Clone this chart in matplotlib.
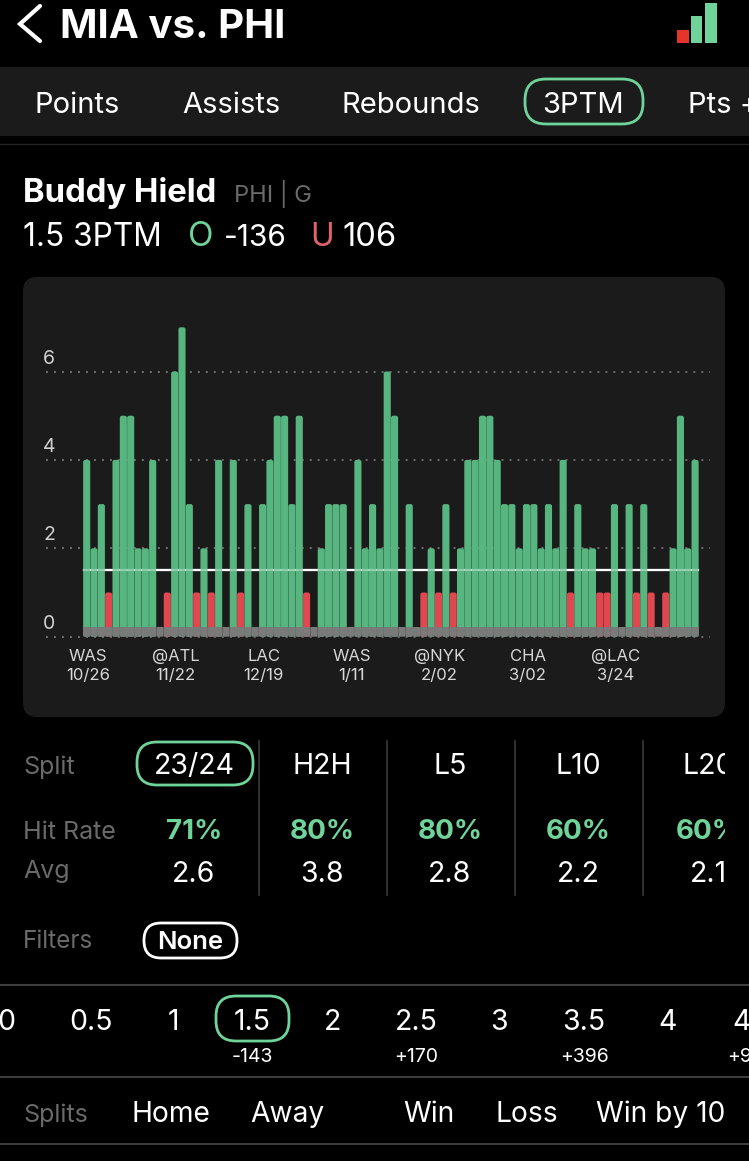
import matplotlib
matplotlib.use('Agg')
import matplotlib.pyplot as plt
from matplotlib.patches import FancyBboxPatch, Rectangle

plt.rcParams['font.family'] = ['Inter', 'DejaVu Sans']

# made threes per game, 84 games
threes = [4, 2, 3, 1, 4, 5, 5, 2, 2, 4, 0, 1, 6, 7, 3, 1, 2, 1, 4, 0, 4, 1, 3, 0,
          3, 4, 5, 5, 3, 5, 1, 0, 2, 3, 3, 3, 0, 4, 2, 3, 2, 6, 5, 0, 3, 0, 1, 2,
          1, 3, 1, 2, 4, 4, 5, 5, 4, 3, 3, 2, 3, 3, 2, 3, 2, 4, 1, 3, 2, 2, 1, 1,
          3, 0, 3, 1, 3, 1, 0, 1, 2, 5, 2, 4]
prop_line = 1.5
tick_games = [0, 12, 24, 36, 48, 60, 72]
tick_labels = ['WAS\n10/26', '@ATL\n11/22', 'LAC\n12/19', 'WAS\n1/11',
               '@NYK\n2/02', 'CHA\n3/02', '@LAC\n3/24']
y_ticks = [0, 2, 4, 6]

tabs = ['Points', 'Assists', 'Rebounds', '3PTM', 'Pts +']
tab_x = [77, 231, 411, 583, 688]
split_names = ['23/24', 'H2H', 'L5', 'L10', 'L20']
hit_rates = ['71%', '80%', '80%', '60%', '60%']
averages = ['2.6', '3.8', '2.8', '2.2', '2.1']
split_x = [194, 322, 450, 578, 708]
line_vals = ['0', '0.5', '1', '1.5', '2', '2.5', '3', '3.5', '4', '4.5']
line_x = [6, 91, 173, 252, 333, 416, 499, 584, 668, 747]
line_odds = {'1.5': '-143', '2.5': '+170', '3.5': '+396', '4.5': '+950'}
filters = ['Home', 'Away', 'Win', 'Loss', 'Win by 10']
filter_x = [171, 287, 429, 527, 661]

GREEN = '#6fd39a'
BAR_GREEN = '#57b580'
BAR_RED = '#e0474f'
GREY = '#7a7a7a'
CARD = '#1b1b1b'

W, H = 749, 1161
fig = plt.figure(figsize=(W / 100, H / 100), dpi=100, facecolor='black')

# whole page, in pixels
ui = fig.add_axes([0, 0, 1, 1])
ui.set_xlim(0, W)
ui.set_ylim(H, 0)
ui.axis('off')


def label(x, y, s, size, color='white', weight='normal', ha='center', clip=None):
    t = ui.text(x, y + 1, s, fontsize=size, color=color, fontweight=weight, ha=ha, va='baseline')
    if clip is not None:
        # ax.text turns clipping off, the table runs past the card edge
        t.set_clip_on(True)
        t.set_clip_path(Rectangle((0, 0), clip, H, transform=ui.transData))
    return t


def pill(x0, y0, x1, y1, color, r=20, lw=2.0):
    ui.add_patch(FancyBboxPatch((x0 + r, y0 + r), x1 - x0 - 2 * r, y1 - y0 - 2 * r,
                                boxstyle='round,pad=%d,rounding_size=%d' % (r, r),
                                fc='none', ec=color, lw=lw))


# header
ui.plot([40, 20, 40], [6, 24, 41], color='white', lw=3, solid_capstyle='round', solid_joinstyle='miter')
label(60, 37, 'MIA vs. PHI', 29, weight='bold', ha='left')
ui.add_patch(Rectangle((677, 30), 12, 13, color='#e5352b', lw=0))
ui.add_patch(Rectangle((691, 16), 11, 27, color=GREEN, lw=0))
ui.add_patch(Rectangle((705, 3), 12, 40, color=GREEN, lw=0))

# tab strip
ui.add_patch(Rectangle((0, 67), W, 69, color=CARD, lw=0))
ui.plot([0, W], [144, 144], color='#222222', lw=1)
for name, x in zip(tabs, tab_x):
    label(x, 112, name, 21, ha='center' if name != 'Pts +' else 'left')
pill(525, 79, 643, 124, GREEN, r=21)

# player
label(23, 201, 'Buddy Hield', 23.7, weight='bold', ha='left')
label(234, 201, 'PHI | G', 17, color='#6a6a6a', ha='left')
label(23, 245, '1.5 3PTM', 22.8, ha='left')
label(188, 245, 'O', 24, color=GREEN, ha='left')
label(224, 245, '-136', 21.5, ha='left')
label(310, 245, 'U', 23, color='#e0616a', ha='left')
label(342, 245, '106', 23.5, ha='left')

# chart card
ui.add_patch(FancyBboxPatch((37, 291), 674, 412, boxstyle='round,pad=14,rounding_size=14', fc=CARD, ec='none'))

# chart axes sit inside the card, scaled so one game is 7.33 px and one three is 44.2 px
GAME_PX = 7.33
THREE_PX = 44.2
X0, Y0 = 86.7, 636.7
AX_BOTTOM = 642
ax = fig.add_axes([23 / W, 1 - AX_BOTTOM / H, 702 / W, (AX_BOTTOM - 277) / H])
ax.set_xlim((23 - X0) / GAME_PX, (725 - X0) / GAME_PX)
ax.set_ylim((Y0 - AX_BOTTOM) / THREE_PX, (Y0 - 277) / THREE_PX)
ax.patch.set_alpha(0)
for s in ax.spines.values():
    s.set_visible(False)

ax.hlines(y_ticks, (46 - X0) / GAME_PX, (710 - X0) / GAME_PX, color='#6e6e6e', lw=1.4,
          linestyle=(0, (1, 3.11)), zorder=1)
ax.axhline(prop_line, xmin=(84 - 23) / 702, xmax=(698 - 23) / 702, color='white', lw=1.6, zorder=2)


def rounded_bar(i, height, color, zorder, r=0.3):
    w = 0.97
    ax.add_patch(FancyBboxPatch((i - w / 2, 0), w, height,
                                boxstyle='round,pad=0,rounding_size=%g' % r,
                                mutation_aspect=GAME_PX / THREE_PX,
                                fc=color, ec='none', zorder=zorder))


for i, v in enumerate(threes):
    if v > 0:
        rounded_bar(i, v, BAR_GREEN if v > prop_line else BAR_RED, 3)
    rounded_bar(i, 0.22, GREY, 4, r=0.12)

# line shows through the bars, paler
ax.axhline(prop_line, xmin=(84 - 23) / 702, xmax=(698 - 23) / 702, color='white', lw=1.6, alpha=0.35, zorder=5)

ax.set_yticks(y_ticks)
ax.set_yticklabels([])
ax.tick_params(axis='y', length=0)
for v in y_ticks:
    ax.annotate(str(v), (0, v), xycoords=('axes fraction', 'data'), xytext=(26, 13),
                textcoords='offset pixels', color='#d0d0d0', fontsize=14, ha='center', va='center')

ax.set_xticks([g + 0.15 for g in tick_games])
ax.set_xticklabels(tick_labels, fontsize=12, color='#d8d8d8', linespacing=1.35)
ax.tick_params(axis='x', length=0, pad=5)

# split table
label(23, 773, 'Split', 18, color='#6a6a6a', ha='left')
label(23, 838, 'Hit Rate', 18, color='#6a6a6a', ha='left')
label(23, 877, 'Avg', 18, color='#6a6a6a', ha='left')
for name, hit, avg, x in zip(split_names, hit_rates, averages, split_x):
    label(x, 773, name, 20.5, clip=725)
    label(x, 838, hit, 20, color=GREEN, weight='bold', clip=725)
    label(x, 881, avg, 20.5, clip=725)
pill(137, 742, 253, 785, GREEN, r=20)
for x in [259, 387, 515, 643]:
    ui.plot([x, x], [741, 895], color='#3a3a3a', lw=1.2)

label(23, 947, 'Filters', 17.5, color='#6a6a6a', ha='left')
label(190, 948, 'None', 18.5, weight='semibold')
pill(144, 923, 237, 958, 'white', r=17)

# alt lines
ui.plot([0, W], [985, 985], color='#3c3c3c', lw=1.5)
ui.plot([0, W], [1077, 1077], color='#3c3c3c', lw=1.5)
ui.plot([0, W], [1144, 1144], color='#3c3c3c', lw=1.5)
for val, x in zip(line_vals, line_x):
    if val == '4.5':
        label(732, 1029, val, 20.5, ha='left')
    else:
        label(x, 1029, val, 20.5)
    if val in line_odds:
        if val == '4.5':
            label(727, 1061, line_odds[val], 14, ha='left')
        else:
            label(x, 1061, line_odds[val], 14)
pill(216, 996, 289, 1041, GREEN, r=20)

label(23, 1121, 'Splits', 18, color='#6a6a6a', ha='left')
for name, x in zip(filters, filter_x):
    label(x, 1121, name, 20.3)

fig.savefig('out.png', dpi=100, facecolor='black')
